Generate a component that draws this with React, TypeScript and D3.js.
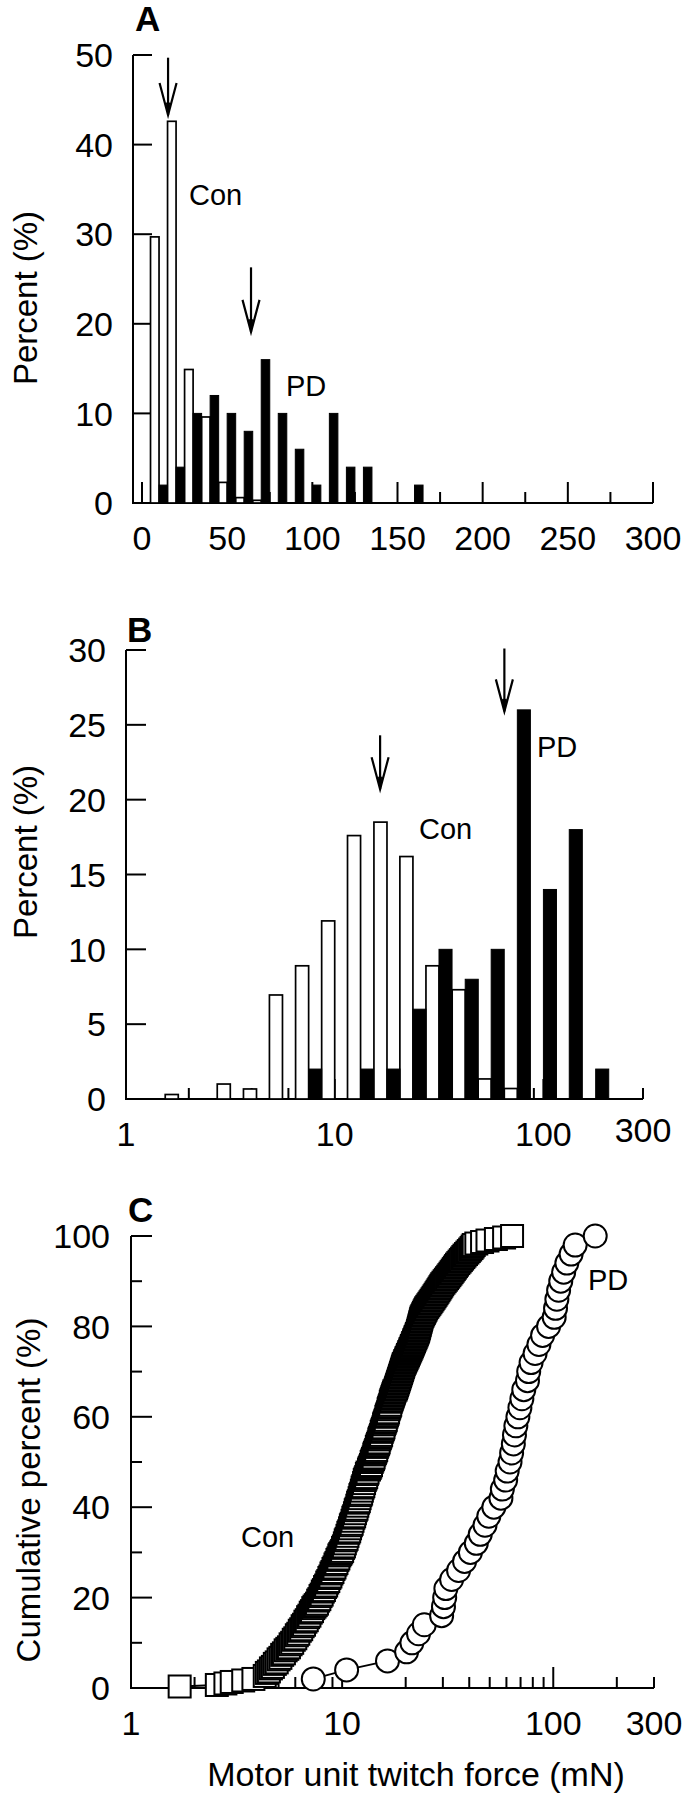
import React from 'react';
import * as d3 from 'd3';

const FONT = "'Liberation Sans', Arial, Helvetica, sans-serif";

// ---------- Panel A (linear histogram, 10 mN bins, label = bin upper edge) ----------
const aBinLabels = [10, 20, 30, 40, 50, 60, 70, 80, 90, 100, 110, 120, 130, 140, 150, 160];
const aCon = [29.7, 42.6, 14.9, 9.6, 2.3, 0.6, 0.3, 0, 0, 0, 0, 0, 0, 0, 0, 0];
const aPD = [2, 4, 10, 12, 10, 8, 16, 10, 6, 2, 10, 4, 4, 0, 0, 2];
const aXTicks = [0, 50, 100, 150, 200, 250, 300];
const aXMinor = [25, 75, 125, 175, 225, 275];
const aYTicks = [0, 10, 20, 30, 40, 50];
const aArrows = [
  { x: 15.3, from: 49.7, to: 43.3 },
  { x: 64, from: 26.3, to: 19.1 },
];

// ---------- Panel B (log histogram, 1/8-decade bins, value = bin upper edge in mN) ----------
const bBinEdges = [1.78, 2.37, 3.16, 4.22, 5.62, 7.5, 10, 13.3, 17.8, 23.7, 31.6, 42.2, 56.2, 75, 100, 133, 178];
const bCon = [0.3, 0, 1.0, 0.67, 6.95, 8.9, 11.9, 17.6, 18.5, 16.2, 8.9, 7.3, 1.34, 0.7, 0, 0, 0];
const bPD = [0, 0, 0, 0, 0, 2, 0, 2, 2, 6, 10, 8, 10, 26, 14, 18, 2];
const bYTicks = [0, 5, 10, 15, 20, 25, 30];
const bArrows = [
  { x: 16.5, from: 24.3, to: 20.7 },
  { x: 65, from: 30.1, to: 25.9 },
];

// ---------- Log axis ticks shared by B and C ----------
const logLabels = [1, 10, 100, 300];
const logMajor = [10, 100];
const logMinor = [2, 3, 4, 5, 6, 7, 8, 9, 20, 30, 40, 50, 60, 70, 80, 90, 200, 300];

// ---------- Panel C (cumulative distributions, twitch force in mN, sorted) ----------
const conForces = [
  1.7, 2.55, 2.8, 3.0, 3.4, 3.8,
  4.3, 4.3, 4.4, 4.4, 4.5, 4.6, 4.6, 4.7, 4.8, 4.8, 4.9, 5.0, 5.0, 5.1, 5.2, 5.2, 5.3, 5.4, 5.4, 5.5, 5.6,
  5.7, 5.7, 5.8, 5.9, 5.9, 6.0, 6.1, 6.1, 6.2, 6.3, 6.3, 6.4, 6.5, 6.5, 6.6, 6.7, 6.7, 6.8, 6.9, 6.9, 7.0, 7.1, 7.1, 7.2, 7.3, 7.3, 7.4,
  7.5, 7.6, 7.7, 7.7, 7.8, 7.9, 7.9, 8.0, 8.1, 8.1, 8.2, 8.3, 8.3, 8.4, 8.5, 8.5, 8.6, 8.7, 8.7, 8.8, 8.9, 8.9, 9.0, 9.1, 9.1, 9.2, 9.3, 9.3, 9.4, 9.5, 9.5, 9.6, 9.7, 9.7, 9.8, 9.9,
  10.0, 10.1, 10.1, 10.2, 10.3, 10.3, 10.4, 10.4, 10.5, 10.6, 10.6, 10.7, 10.7, 10.8, 10.9, 10.9, 11.0, 11.0, 11.1, 11.2,
  11.2, 11.3, 11.3, 11.4, 11.5, 11.5, 11.6, 11.6, 11.7, 11.8, 11.8, 11.9, 11.9, 12.0, 12.1, 12.1, 12.2, 12.2, 12.3, 12.4,
  12.4, 12.5, 12.5, 12.6, 12.7, 12.7, 12.8, 12.8, 12.9, 13.0, 13.1, 13.1, 13.2,
  13.4, 13.4, 13.5, 13.6, 13.7, 13.8, 13.8, 13.9, 14.0, 14.1, 14.2, 14.2, 14.3, 14.4, 14.5, 14.6, 14.6, 14.7, 14.8, 14.9,
  15.0, 15.0, 15.1, 15.2, 15.3, 15.4, 15.4, 15.5, 15.6, 15.7, 15.8, 15.8, 15.9, 16.0, 16.1, 16.2, 16.2, 16.3, 16.4, 16.5,
  16.6, 16.6, 16.7, 16.8, 16.9, 17.0, 17.0, 17.1, 17.2, 17.3, 17.4, 17.5, 17.6, 17.7,
  17.9, 18.0, 18.1, 18.2, 18.3, 18.4, 18.5, 18.6, 18.7, 18.8, 18.9, 19.0, 19.1, 19.2, 19.3, 19.4, 19.5, 19.6, 19.8, 19.9,
  20.1, 20.2, 20.4, 20.5, 20.7, 20.8, 21.0, 21.1, 21.3, 21.4, 21.6, 21.7, 21.9, 22.0, 22.2, 22.3, 22.5, 22.6, 22.8, 22.9,
  23.0, 23.1, 23.2, 23.3, 23.4, 23.5, 23.6, 23.7,
  23.8, 24.0, 24.2, 24.4, 24.6, 24.8, 25.0, 25.3, 25.6, 25.9, 26.2, 26.5, 26.8, 27.1, 27.4, 27.7, 28.0, 28.3, 28.6, 28.9, 29.2, 29.5, 29.8, 30.2, 30.6, 31.0, 31.4,
  31.8, 32.2, 32.6, 33.0, 33.4, 33.8, 34.2, 34.6, 35.0, 35.5, 36.0, 36.5, 37.0, 37.5, 38.0, 38.6, 39.2, 39.8, 40.4, 41.0, 41.5, 42.0,
  43.2, 46.0, 48.8, 53.5,
  58.5, 63.8,
];
const pdForces = [
  7.3, 10.5, 16.4, 20.2, 21.4, 23.0, 24.5, 29.6, 30.2, 30.6,
  31.0, 33.0, 35.6, 38.0, 40.5, 43.2, 45.1, 47.5, 49.5, 52.3,
  56.5, 57.4, 59.5, 60.5, 62.4, 63.5, 64.7, 65.5, 66.5, 68.0,
  69.5, 71.0, 72.5, 75.5, 76.5, 78.5, 82.0, 85.5, 89.0, 95.0,
  101, 102.5, 104, 106, 108.5, 112, 116, 121.5, 127, 158,
];
const cYMajor = [0, 20, 40, 60, 80, 100];
const cYMinor = [10, 30, 50, 70, 90];

// ---------- geometry ----------
const W = 690;
const H = 1800;
const TICK_BIG = 20;
const TICK_SMALL = 11;
const AXIS_W = 2;

// empirical cumulative distribution: one point per distinct value, at its cumulative percent
function ecdf(values: number[]): [number, number][] {
  const n = values.length;
  const out: [number, number][] = [];
  values.forEach((v, i) => {
    if (i + 1 < n && values[i + 1] === v) return;
    out.push([v, ((i + 1) / n) * 100]);
  });
  return out;
}

function Arrow({ x, y0, y1 }: { x: number; y0: number; y1: number }) {
  const hl = 32;
  const hw = 8.5;
  return (
    <g stroke="#000" strokeWidth={2.2} fill="none">
      <line x1={x} y1={y0} x2={x} y2={y1} />
      <path d={`M${x - hw},${y1 - hl} L${x},${y1} L${x + hw},${y1 - hl}`} strokeLinejoin="miter" />
      <path d={`M${x - 2},${y1 - 12} L${x},${y1} L${x + 2},${y1 - 12} Z`} fill="#000" strokeWidth={1} />
    </g>
  );
}

function YTitle({ x, y, text }: { x: number; y: number; text: string }) {
  return (
    <text transform={`translate(${x},${y}) rotate(-90)`} textAnchor="middle" fontSize={33} fontFamily={FONT}>
      {text}
    </text>
  );
}

export default function App() {
  const xA = d3.scaleLinear().domain([0, 300]).range([142, 653]);
  const yA = d3.scaleLinear().domain([0, 50]).range([503, 55]);
  const axA = 133;
  const xB = d3.scaleLog().domain([1, 300]).range([126, 643]);
  const yB = d3.scaleLinear().domain([0, 30]).range([1099, 650]);
  const xC = d3.scaleLog().domain([1, 300]).range([131, 654]);
  const yC = d3.scaleLinear().domain([0, 100]).range([1688, 1236]);

  const halfA = 5; // half-bin width (mN)
  const halfB = Math.pow(10, 1 / 16); // half-bin ratio (1/16 decade)

  const conPts = ecdf(conForces).map(([f, p]) => [xC(f), yC(p)] as [number, number]);
  const pdPts = ecdf(pdForces).map(([f, p]) => [xC(f), yC(p)] as [number, number]);
  const line = d3.line();
  const SQ = 22;
  const R = 11.5;

  const tickLabel = { fontSize: 34, fontFamily: FONT } as const;

  return (
    <svg width={W} height={H} viewBox={`0 0 ${W} ${H}`} style={{ position: 'absolute', left: 0, top: 0, background: '#fff' }}>
      <rect x={0} y={0} width={W} height={H} fill="#fff" />

      {/* ================= Panel A ================= */}
      <g>
        <text x={135} y={31} fontSize={35} fontWeight="bold" fontFamily={FONT}>A</text>
        <YTitle x={37} y={298} text="Percent (%)" />
        <line x1={axA} y1={yA(50)} x2={axA} y2={yA(0)} stroke="#000" strokeWidth={AXIS_W} />
        <line x1={axA - 1} y1={yA(0)} x2={xA(300)} y2={yA(0)} stroke="#000" strokeWidth={AXIS_W} />
        {aYTicks.map((t) => (
          <g key={`ay${t}`}>
            <line x1={axA} x2={axA + 19} y1={yA(t)} y2={yA(t)} stroke="#000" strokeWidth={AXIS_W} />
            <text x={axA - 20} y={yA(t)} dy="0.36em" textAnchor="end" {...tickLabel}>{t}</text>
          </g>
        ))}
        {aXTicks.map((t) => (
          <g key={`ax${t}`}>
            <line x1={xA(t)} x2={xA(t)} y1={yA(0)} y2={yA(0) - 21} stroke="#000" strokeWidth={AXIS_W} />
            <text x={xA(t)} y={yA(0) + 47} textAnchor="middle" {...tickLabel}>{t}</text>
          </g>
        ))}
        {aXMinor.map((t) => (
          <line key={`axm${t}`} x1={xA(t)} x2={xA(t)} y1={yA(0)} y2={yA(0) - TICK_SMALL} stroke="#000" strokeWidth={AXIS_W} />
        ))}
        {aBinLabels.map((c, i) =>
          aCon[i] > 0 ? (
            <rect key={`ac${c}`} x={xA(c - halfA)} y={yA(aCon[i])} width={xA(c) - xA(c - halfA)} height={yA(0) - yA(aCon[i])}
              fill="#fff" stroke="#000" strokeWidth={1.7} />
          ) : null
        )}
        {aBinLabels.map((c, i) =>
          aPD[i] > 0 ? (
            <rect key={`ap${c}`} x={xA(c)} y={yA(aPD[i])} width={xA(c + halfA) - xA(c)} height={yA(0) - yA(aPD[i])}
              fill="#000" stroke="#000" strokeWidth={1} />
          ) : null
        )}
        {aArrows.map((a, i) => (
          <Arrow key={`aa${i}`} x={xA(a.x)} y0={yA(a.from)} y1={yA(a.to)} />
        ))}
        <text x={189} y={205} fontSize={29} fontFamily={FONT}>Con</text>
        <text x={286} y={396} fontSize={29} fontFamily={FONT}>PD</text>
      </g>

      {/* ================= Panel B ================= */}
      <g>
        <text x={127} y={642} fontSize={35} fontWeight="bold" fontFamily={FONT}>B</text>
        <YTitle x={37} y={852} text="Percent (%)" />
        <line x1={xB(1)} y1={yB(30)} x2={xB(1)} y2={yB(0)} stroke="#000" strokeWidth={AXIS_W} />
        <line x1={xB(1) - 1} y1={yB(0)} x2={xB(300)} y2={yB(0)} stroke="#000" strokeWidth={AXIS_W} />
        {bYTicks.map((t) => (
          <g key={`by${t}`}>
            <line x1={xB(1)} x2={xB(1) + TICK_BIG} y1={yB(t)} y2={yB(t)} stroke="#000" strokeWidth={AXIS_W} />
            <text x={xB(1) - 20} y={yB(t)} dy="0.36em" textAnchor="end" {...tickLabel}>{t}</text>
          </g>
        ))}
        {logMajor.map((t) => (
          <line key={`bxM${t}`} x1={xB(t)} x2={xB(t)} y1={yB(0)} y2={yB(0) - TICK_BIG} stroke="#000" strokeWidth={AXIS_W} />
        ))}
        {logMinor.map((t) => (
          <line key={`bxm${t}`} x1={xB(t)} x2={xB(t)} y1={yB(0)} y2={yB(0) - TICK_SMALL} stroke="#000" strokeWidth={AXIS_W} />
        ))}
        {logLabels.map((t) => (
          <text key={`bxl${t}`} x={xB(t)} y={yB(0) + (t === 300 ? 43 : 47)} textAnchor="middle" {...tickLabel}>{t}</text>
        ))}
        {bBinEdges.map((e, i) =>
          bCon[i] > 0 ? (
            <rect key={`bc${i}`} x={xB(e / halfB)} y={yB(bCon[i])} width={xB(e) - xB(e / halfB)} height={yB(0) - yB(bCon[i])}
              fill="#fff" stroke="#000" strokeWidth={1.7} />
          ) : null
        )}
        {bBinEdges.map((e, i) =>
          bPD[i] > 0 ? (
            <rect key={`bp${i}`} x={xB(e)} y={yB(bPD[i])} width={xB(e * halfB) - xB(e)} height={yB(0) - yB(bPD[i])}
              fill="#000" stroke="#000" strokeWidth={1} />
          ) : null
        )}
        {bArrows.map((a, i) => (
          <Arrow key={`ba${i}`} x={xB(a.x)} y0={yB(a.from)} y1={yB(a.to)} />
        ))}
        <text x={419} y={839} fontSize={29} fontFamily={FONT}>Con</text>
        <text x={537} y={757} fontSize={29} fontFamily={FONT}>PD</text>
      </g>

      {/* ================= Panel C ================= */}
      <g>
        <text x={128} y={1222} fontSize={35} fontWeight="bold" fontFamily={FONT}>C</text>
        <YTitle x={40} y={1490} text="Cumulative percent (%)" />
        <line x1={xC(1)} y1={yC(100)} x2={xC(1)} y2={yC(0)} stroke="#000" strokeWidth={AXIS_W} />
        <line x1={xC(1) - 1} y1={yC(0)} x2={xC(300)} y2={yC(0)} stroke="#000" strokeWidth={AXIS_W} />
        {cYMajor.map((t) => (
          <g key={`cy${t}`}>
            <line x1={xC(1)} x2={xC(1) + 21} y1={yC(t)} y2={yC(t)} stroke="#000" strokeWidth={AXIS_W} />
            <text x={xC(1) - 21} y={yC(t)} dy="0.36em" textAnchor="end" {...tickLabel}>{t}</text>
          </g>
        ))}
        {cYMinor.map((t) => (
          <line key={`cym${t}`} x1={xC(1)} x2={xC(1) + TICK_SMALL} y1={yC(t)} y2={yC(t)} stroke="#000" strokeWidth={AXIS_W} />
        ))}
        {logMajor.map((t) => (
          <line key={`cxM${t}`} x1={xC(t)} x2={xC(t)} y1={yC(0)} y2={yC(0) - 21} stroke="#000" strokeWidth={AXIS_W} />
        ))}
        {logMinor.map((t) => (
          <line key={`cxm${t}`} x1={xC(t)} x2={xC(t)} y1={yC(0)} y2={yC(0) - TICK_SMALL} stroke="#000" strokeWidth={AXIS_W} />
        ))}
        {logLabels.map((t) => (
          <text key={`cxl${t}`} x={xC(t)} y={yC(0) + 47} textAnchor="middle" {...tickLabel}>{t}</text>
        ))}
        <text x={416} y={1786} textAnchor="middle" fontSize={34} fontFamily={FONT}>Motor unit twitch force (mN)</text>

        <path d={line(conPts) || ''} fill="none" stroke="#000" strokeWidth={1.8} />
        {conPts.map(([x, y], i) => (
          <rect key={`cs${i}`} x={x - SQ / 2} y={y - SQ / 2} width={SQ} height={SQ} fill="#fff" stroke="#000" strokeWidth={2} />
        ))}
        <path d={line(pdPts) || ''} fill="none" stroke="#000" strokeWidth={1.8} />
        {pdPts.map(([x, y], i) => (
          <circle key={`cc${i}`} cx={x} cy={y} r={R} fill="#fff" stroke="#000" strokeWidth={2} />
        ))}
        <text x={588} y={1290} fontSize={29} fontFamily={FONT}>PD</text>
        <text x={241} y={1547} fontSize={29} fontFamily={FONT}>Con</text>
      </g>
    </svg>
  );
}
